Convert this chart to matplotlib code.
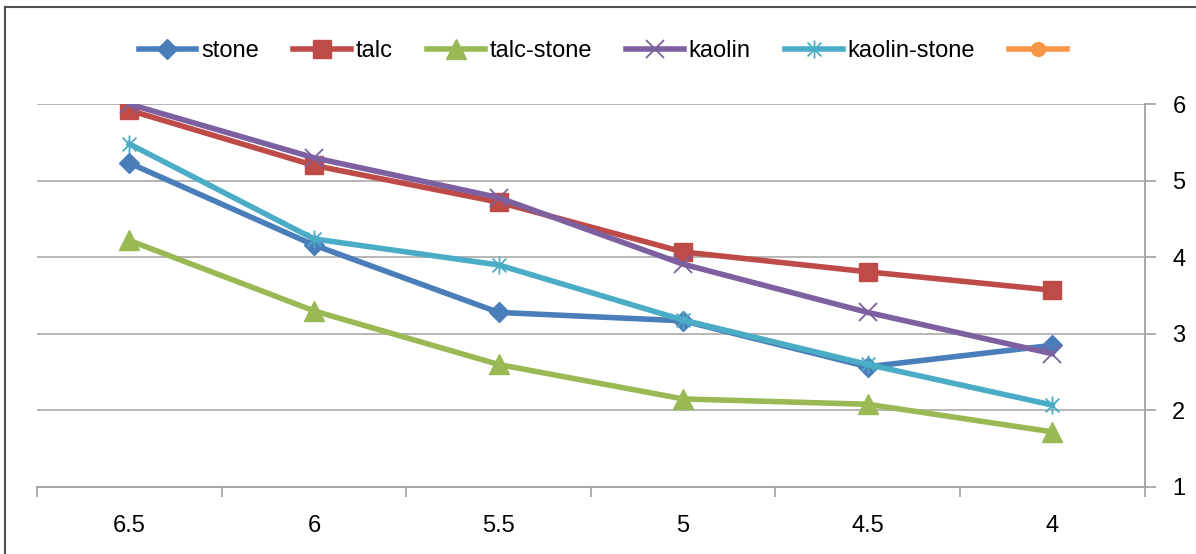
import matplotlib.pyplot as plt
from matplotlib.path import Path
from matplotlib.lines import Line2D

categories = ["6.5", "6", "5.5", "5", "4.5", "4"]
stone = [5.23, 4.16, 3.28, 3.17, 2.57, 2.85]
talc = [5.92, 5.20, 4.72, 4.07, 3.81, 3.57]
talc_stone = [4.22, 3.30, 2.60, 2.15, 2.08, 1.72]
kaolin = [6.00, 5.30, 4.78, 3.91, 3.28, 2.74]
kaolin_stone = [5.48, 4.24, 3.90, 3.18, 2.60, 2.07]

plt.rcParams['font.family'] = ['Liberation Sans', 'DejaVu Sans']

# excel style star: x with a vertical bar
star = Path([(-1, -1), (1, 1), (-1, 1), (1, -1), (0, -1.3), (0, 1.3)],
            [Path.MOVETO, Path.LINETO, Path.MOVETO, Path.LINETO, Path.MOVETO, Path.LINETO])

series = [
    ("stone", stone, "#4A7EBB", "D", 10, 1.0),
    ("talc", talc, "#BE4B48", "s", 13, 1.0),
    ("talc-stone", talc_stone, "#98B954", "^", 14, 1.0),
    ("kaolin", kaolin, "#7D60A0", "x", 13, 1.3),
    ("kaolin-stone", kaolin_stone, "#4BACC6", star, 13, 1.3),
]

fig = plt.figure(figsize=(11.96, 5.54), dpi=100)
ax = fig.add_axes([0.031, 0.121, 0.926, 0.691])

x = list(range(len(categories)))
handles = []
for name, vals, col, mk, ms, mew in series:
    ln, = ax.plot(x, vals, color=col, lw=4, marker=mk, markersize=ms,
                  markeredgewidth=mew, markeredgecolor=col, markerfacecolor=col,
                  label=name, zorder=3)
    handles.append(ln)
handles.append(Line2D([], [], color="#F79646", lw=4, marker="o", markersize=10))

ax.set_xlim(-0.5, len(categories) - 0.5)
ax.set_ylim(1, 6)
ax.set_yticks([1, 2, 3, 4, 5, 6])
ax.set_xticks(x)
ax.set_xticklabels(categories)
ax.set_xticks([i - 0.5 for i in range(len(categories) + 1)], minor=True)
ax.tick_params(axis="x", which="major", length=0, labelsize=17, pad=20)
ax.tick_params(axis="x", which="minor", length=7, color="#A0A0A0", width=1.2)
ax.yaxis.tick_right()
ax.tick_params(axis="y", length=8, color="#A0A0A0", width=1.2, labelsize=17, pad=12)
ax.grid(axis="y", color="#B0B0B0", lw=1.3)
ax.set_axisbelow(True)
for s in ["top", "left"]:
    ax.spines[s].set_visible(False)
for s in ["bottom", "right"]:
    ax.spines[s].set_color("#A0A0A0")
    ax.spines[s].set_linewidth(1.3)

fig.legend(handles, ["stone", "talc", "talc-stone", "kaolin", "kaolin-stone", ""],
           loc="center", bbox_to_anchor=(0.506, 0.908), ncol=6, frameon=False,
           fontsize=17, handlelength=2.45, columnspacing=1.45, handletextpad=0.2)

# chart border
fig.add_artist(Line2D([0.0045, 0.0045], [0.0, 0.988], color="#505050", lw=1.5))
fig.add_artist(Line2D([0.0045, 1.0], [0.988, 0.988], color="#505050", lw=1.5))

fig.savefig("out.png", dpi=100)
